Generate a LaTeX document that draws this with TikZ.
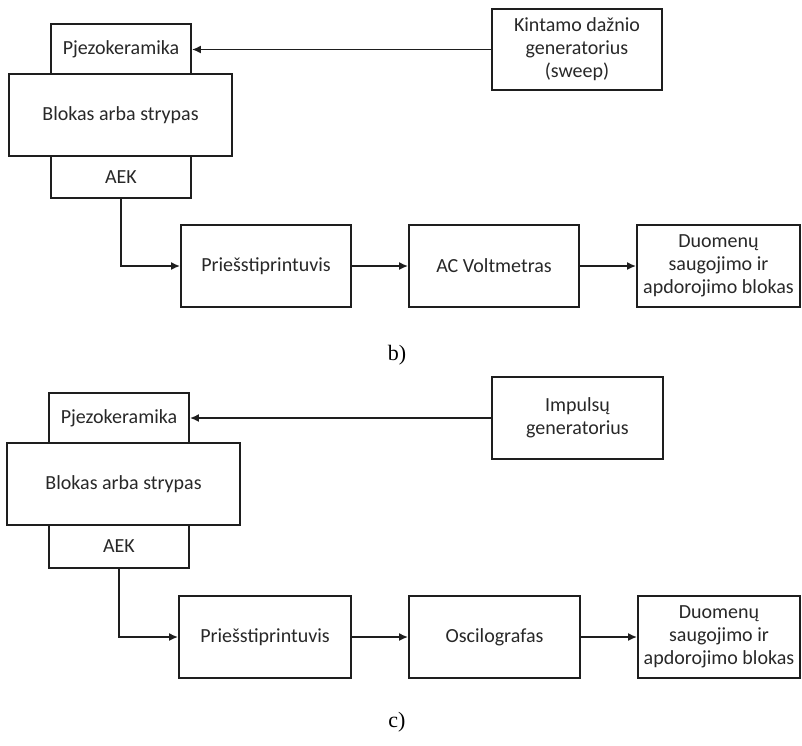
\documentclass[tikz,border=0pt]{standalone}
\usepackage{fontspec}
\setmainfont{Carlito}
\newfontfamily\capfont{Liberation Serif}
\usetikzlibrary{arrows.meta}
\definecolor{ink}{RGB}{30,30,30}
\definecolor{txt}{RGB}{40,40,40}
\tikzset{
  blk/.style={draw=ink, line width=1.8pt, inner sep=0pt, align=center,
    font=\fontsize{20}{23}\selectfont, text=txt},
  conn/.style={draw=ink, line width=1.8pt, -{Latex[length=9pt,width=8pt]}},
  sublabel/.style={font=\capfont\fontsize{22}{25}\selectfont, text=black}
}
\begin{document}
\begin{tikzpicture}[x=1pt,y=-1pt]
\useasboundingbox[fill=white] (0,0) rectangle (802,745);
% ---- b)
\node[blk, minimum width=223pt, minimum height=82pt] (bl1) at (120.5,115) {Blokas arba strypas};
\node[blk, minimum width=140pt, minimum height=50pt] (pz1) at (121,49) {Pjezokeramika};
\node[blk, minimum width=140pt, minimum height=42pt] (aek1) at (121,177) {AEK};
\node[blk, minimum width=170pt, minimum height=81pt] (gen1) at (577,49.5) {Kintamo dažnio\\generatorius\\(sweep)};
\node[blk, minimum width=170pt, minimum height=82pt] (pr1) at (266,266) {Priešstiprintuvis};
\node[blk, minimum width=170pt, minimum height=82pt] (ac1) at (494,266) {AC Voltmetras};
\node[blk, minimum width=163pt, minimum height=82pt] (du1) at (718.5,266) {Duomenų\\saugojimo ir\\apdorojimo blokas};
\node[sublabel] (lb) at (397,355) {b)};
\draw[conn] (gen1.west) -- (gen1.west -| pz1.east);
\draw[conn] (aek1.south) |- (pr1.west);
\draw[conn] (pr1.east) -- (ac1.west);
\draw[conn] (ac1.east) -- (du1.west);
% ---- c)
\node[blk, minimum width=233pt, minimum height=82pt] (bl2) at (123.5,484) {Blokas arba strypas};
\node[blk, minimum width=140pt, minimum height=50pt] (pz2) at (119,418) {Pjezokeramika};
\node[blk, minimum width=140pt, minimum height=43pt] (aek2) at (119,546.5) {AEK};
\node[blk, minimum width=171pt, minimum height=82pt] (gen2) at (577.5,418) {Impulsų\\generatorius};
\node[blk, minimum width=172pt, minimum height=82pt] (pr2) at (265,637) {Priešstiprintuvis};
\node[blk, minimum width=171pt, minimum height=82pt] (os2) at (494.5,637) {Oscilografas};
\node[blk, minimum width=162pt, minimum height=82pt] (du2) at (719,637) {Duomenų\\saugojimo ir\\apdorojimo blokas};
\node[sublabel] (lc) at (397,722) {c)};
\draw[conn] (gen2.west) -- (gen2.west -| pz2.east);
\draw[conn] (aek2.south) |- (pr2.west);
\draw[conn] (pr2.east) -- (os2.west);
\draw[conn] (os2.east) -- (du2.west);
\end{tikzpicture}
\end{document}
